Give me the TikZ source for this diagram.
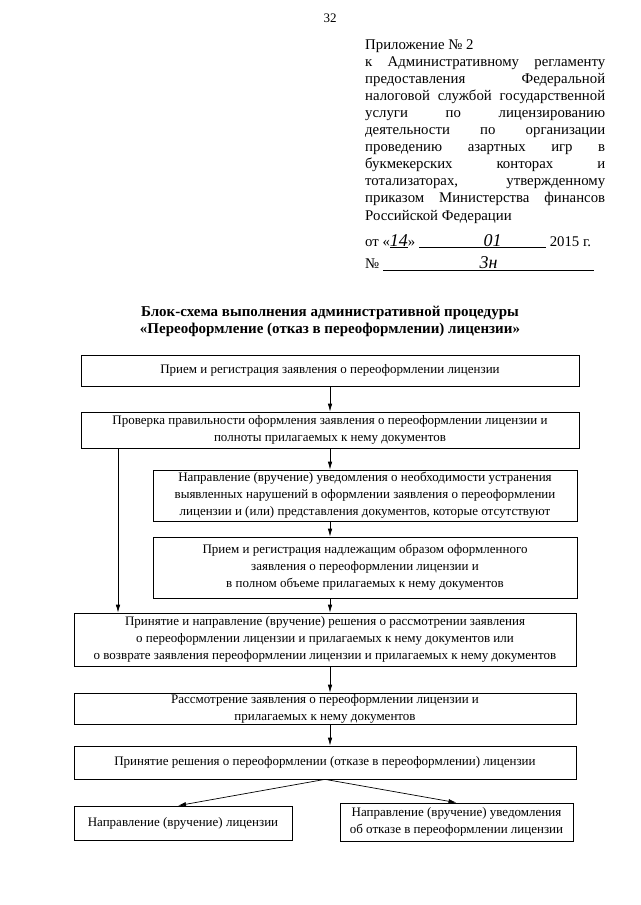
\documentclass[tikz,border=0pt]{standalone}
\usepackage{fontspec}
\setmainfont{Liberation Serif}
\usepackage{tikz}
\usetikzlibrary{positioning,arrows.meta}

\newcommand{\jline}[1]{\makebox[240pt][s]{#1}}
\newcommand{\hand}[1]{{\itshape\fontsize{18}{18}\selectfont #1}}

\begin{document}
\begin{tikzpicture}[x=1pt, y=-1pt,
    blok/.style={draw, line width=0.7pt, align=center, inner sep=1pt, font=\fontsize{13}{16.8}\selectfont},
    arr/.style={line width=0.7pt, -{Latex[length=8pt,width=4.5pt]}}]

    \useasboundingbox (0,0) rectangle (640,905);

    \node (pnum) at (330,18) {\fontsize{13}{15}\selectfont 32};
    \node [anchor=north west, align=left, inner sep=0pt, font=\fontsize{14.8}{17.1}\selectfont] (appx) at (365,39) {Приложение № 2\\
        \jline{к Административному регламенту}\\
        \jline{предоставления Федеральной}\\
        \jline{налоговой службой государственной}\\
        \jline{услуги по лицензированию}\\
        \jline{деятельности по организации}\\
        \jline{проведению азартных игр в}\\
        \jline{букмекерских конторах и}\\
        \jline{тотализаторах, утвержденному}\\
        \jline{приказом Министерства финансов}\\
        Российской Федерации\\[9pt]
        от «\underline{\makebox[18pt]{\hand{14}}}» \underline{\makebox[127pt]{\hspace{20pt}\hand{01}}} 2015 г.\\[5pt]
        № \underline{\makebox[211pt]{\hand{3н}}}};

    \node [align=center, font=\bfseries\fontsize{15}{17}\selectfont] (title) at (330,321.5) {Блок-схема выполнения административной процедуры\\«Переоформление (отказ в переоформлении) лицензии»};

    \coordinate (mid) at (330,0);
    \coordinate (side) at (118,0);

    \node [blok, minimum width=498pt, minimum height=31pt] (box1) at (330,370.5) {Прием и регистрация заявления о переоформлении лицензии};
    \node [blok, minimum width=498pt, minimum height=36pt] (box2) at (330,430) {Проверка правильности оформления заявления о переоформлении лицензии и\\полноты прилагаемых к нему документов};
    \node [blok, minimum width=424pt, minimum height=51pt] (box3) at (365,495.5) {Направление (вручение) уведомления о необходимости устранения\\выявленных нарушений в оформлении заявления о переоформлении\\лицензии и (или) представления документов, которые отсутствуют};
    \node [blok, minimum width=424pt, minimum height=61pt] (box4) at (365,567.5) {Прием и регистрация надлежащим образом оформленного\\заявления о переоформлении лицензии и\\в полном объеме прилагаемых к нему документов};
    \node [blok, minimum width=502pt, minimum height=53pt] (box5) at (325,639.5) {Принятие и направление (вручение) решения о рассмотрении заявления\\о переоформлении лицензии и прилагаемых к нему документов или\\о возврате заявления переоформлении лицензии и прилагаемых к нему документов};
    \node [blok, minimum width=502pt, minimum height=31pt] (box6) at (325,708.5) {Рассмотрение заявления о переоформлении лицензии и\\прилагаемых к нему документов};
    \node [blok, minimum width=502pt, minimum height=33pt] (box7) at (325,762.5) {Принятие решения о переоформлении (отказе в переоформлении) лицензии};
    \node [blok, minimum width=218pt, minimum height=34pt] (box8) at (183,823) {Направление (вручение) лицензии};
    \node [blok, minimum width=233pt, minimum height=38pt] (box9) at (456.5,822) {Направление (вручение) уведомления\\об отказе в переоформлении лицензии};

    \draw [arr] (box1.south -| mid) -- (box2.north -| mid);
    \draw [arr] (box2.south -| mid) -- (box3.north -| mid);
    \draw [arr] (box3.south -| mid) -- (box4.north -| mid);
    \draw [arr] (box4.south -| mid) -- (box5.north -| mid);
    \draw [arr] (box2.south -| side) -- (box5.north -| side);
    \draw [arr] (box5.south -| mid) -- (box6.north -| mid);
    \draw [arr] (box6.south -| mid) -- (box7.north -| mid);
    \draw [arr] (box7.south) -- ([xshift=-5pt]box8.north);
    \draw [arr] (box7.south) -- (box9.north);
\end{tikzpicture}
\end{document}
